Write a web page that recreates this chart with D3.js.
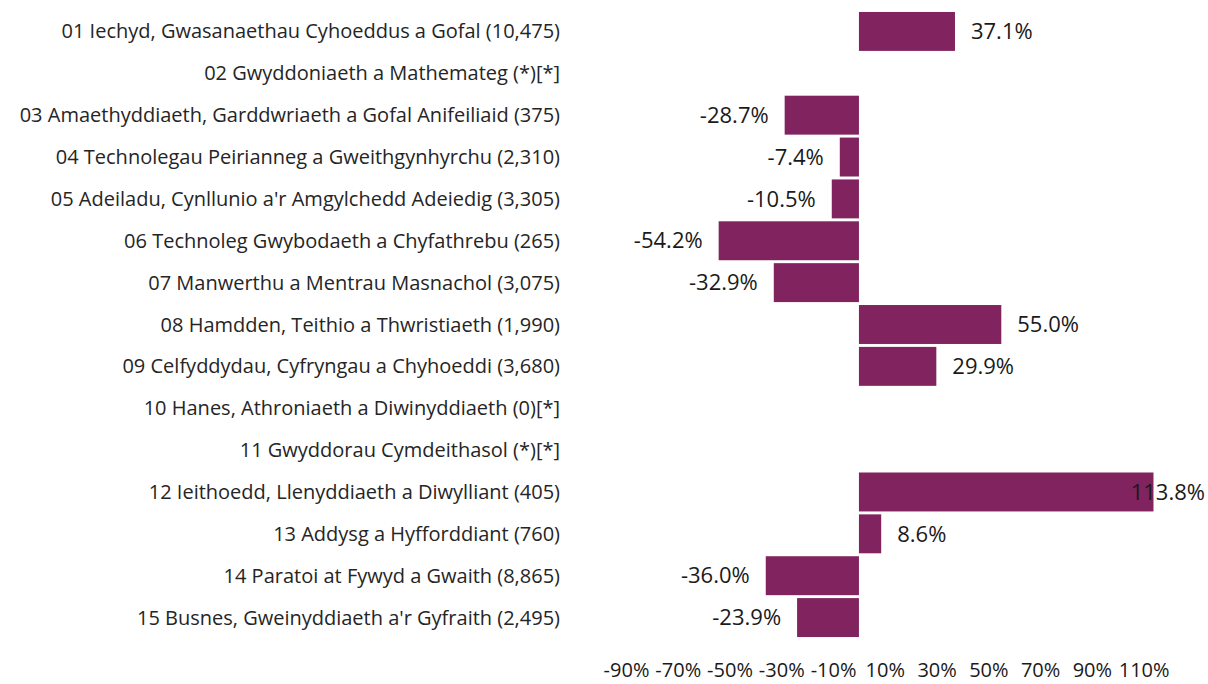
<!DOCTYPE html>
<html>
<head>
<meta charset="utf-8">
<script src="https://cdn.jsdelivr.net/npm/d3@7"></script>
<style>
  body { margin: 0; background: #fff; }
  text { font-family: "Open Sans", "Noto Sans", sans-serif; }
</style>
</head>
<body>
<svg id="chart"></svg>
<script>
// categories (with counts) and percentage change
const categories = [
    "01 Iechyd, Gwasanaethau Cyhoeddus a Gofal (10,475)",
    "02 Gwyddoniaeth a Mathemateg (*)[*]",
    "03 Amaethyddiaeth, Garddwriaeth a Gofal Anifeiliaid (375)",
    "04 Technolegau Peirianneg a Gweithgynhyrchu (2,310)",
    "05 Adeiladu, Cynllunio a'r Amgylchedd Adeiedig (3,305)",
    "06 Technoleg Gwybodaeth a Chyfathrebu (265)",
    "07 Manwerthu a Mentrau Masnachol (3,075)",
    "08 Hamdden, Teithio a Thwristiaeth (1,990)",
    "09 Celfyddydau, Cyfryngau a Chyhoeddi (3,680)",
    "10 Hanes, Athroniaeth a Diwinyddiaeth (0)[*]",
    "11 Gwyddorau Cymdeithasol (*)[*]",
    "12 Ieithoedd, Llenyddiaeth a Diwylliant (405)",
    "13 Addysg a Hyfforddiant (760)",
    "14 Paratoi at Fywyd a Gwaith (8,865)",
    "15 Busnes, Gweinyddiaeth a'r Gyfraith (2,495)"
];
const values = [37.1, null, -28.7, -7.4, -10.5, -54.2, -32.9, 55.0, 29.9, null, null, 113.8, 8.6, -36.0, -23.9];
const tickValues = [-90, -70, -50, -30, -10, 10, 30, 50, 70, 90, 110];

let width = 1208, height = 684;
let svg = d3.select('#chart').attr('width', width).attr('height', height);

let x = d3.scaleLinear().domain([-90, 114]).range([626, 1154]);
let y = d3.scaleBand().domain(categories).range([10.5, 638.5]).paddingInner(0.07).paddingOuter(0.035);

let rows = categories.map(function(c, i) { return {cat: c, v: values[i]}; });

// category labels
svg.append('g').selectAll('text')
    .data(rows)
    .enter().append('text')
    .attr('x', 560)
    .attr('y', function(d) { return y(d.cat) + y.bandwidth() / 2; })
    .attr('dy', '0.35em')
    .attr('text-anchor', 'end')
    .style('font-size', '20px')
    .style('fill', '#252525')
    .text(function(d) { return d.cat; });

let withData = rows.filter(function(d) { return d.v !== null; });

svg.append('g').selectAll('rect')
    .data(withData)
    .enter().append('rect')
    .attr('x', function(d) { return x(Math.min(0, d.v)); })
    .attr('width', function(d) { return Math.abs(x(d.v) - x(0)); })
    .attr('y', function(d) { return y(d.cat); })
    .attr('height', y.bandwidth())
    .style('fill', '#80235e');

// value labels
svg.append('g').selectAll('text')
    .data(withData)
    .enter().append('text')
    .attr('y', function(d) { return y(d.cat) + y.bandwidth() / 2; })
    .attr('dy', '0.35em')
    .attr('text-anchor', function(d) { return d.v < 0 ? 'end' : 'start'; })
    .style('font-size', '22px')
    .style('fill', '#1a1a1a')
    .text(function(d) { return d.v.toFixed(1) + '%'; })
    .attr('x', function(d) {
        if (d.v < 0) return x(d.v) - 16;
        let w = this.getComputedTextLength();
        return Math.min(x(d.v) + 16, width - w - 3);
    });

// axis without line or ticks
let axis = d3.axisBottom(x)
    .tickValues(tickValues)
    .tickSize(0)
    .tickPadding(0)
    .tickFormat(function(d) { return d + '%'; });

let gAxis = svg.append('g')
    .attr('transform', 'translate(0,' + 671 + ')')
    .call(axis);
gAxis.select('.domain').remove();
gAxis.selectAll('text')
    .attr('dy', '0.32em')
    .style('font-size', '20px')
    .style('font-family', '"Open Sans", "Noto Sans", sans-serif')
    .style('fill', '#1a1a1a');
</script>
</body>
</html>
